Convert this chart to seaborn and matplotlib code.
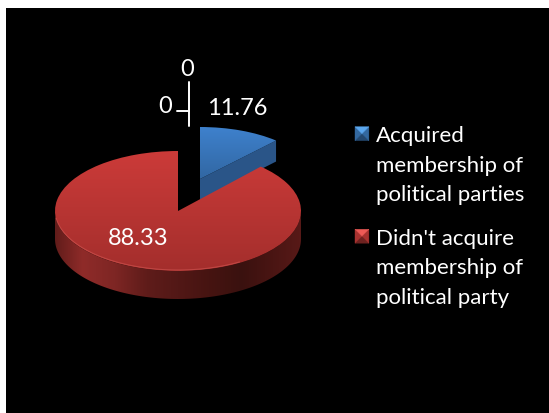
import numpy as np
import matplotlib
matplotlib.use("Agg")
import matplotlib.pyplot as plt
import seaborn as sns
from matplotlib.legend_handler import HandlerBase
from matplotlib.patches import Patch, Polygon
from matplotlib.transforms import Affine2D

categories = ["Acquired\nmembership of\npolitical parties",
              "Didn't acquire\nmembership of\npolitical party"]
shares = [11.76, 88.33]
empty_shares = [0, 0]

BLUE_RAMP = ["#3f82cf", "#30659f"]
RED_RAMP = ["#cc3b39", "#a32e2c"]
RED_WALL = ["#5a1a18", "#8f2b29", "#7e2624", "#5f1c1a", "#521816", "#461411", "#3a110f", "#4a1513", "#5a1a18"]

sns.set_theme(style="dark", rc={"axes.facecolor": "black", "figure.facecolor": "white"})
plt.rcParams["font.family"] = ["Lato", "DejaVu Sans"]

fig = plt.figure(figsize=(5.49, 4.14), dpi=100)
ax = fig.add_axes([6 / 549, 0, 543 / 549, 405 / 414])
ax.set_xticks([])
ax.set_yticks([])
for s in ax.spines.values():
    s.set_visible(False)


def pixel_frame(cx, cy, a, b):
    return Affine2D().scale(a, -b).translate(cx, cy)


wedges, _ = ax.pie(shares, startangle=90, counterclock=False, frame=True)
blue, red = wedges
BLUE_BOX = (200, 180, 113, 52)
RED_BOX = (178, 212, 123, 60)
DEPTH_BLUE, DEPTH_RED = 21, 28
blue_tf = pixel_frame(*BLUE_BOX)
red_tf = pixel_frame(*RED_BOX)


def ellipse_pts(tf, t1, t2, n=2):
    t = np.radians(np.linspace(t1, t2, n))
    return tf.transform(np.column_stack([np.cos(t), np.sin(t)]))


def ramp(colors, n=64):
    return np.array(sns.blend_palette(colors, n))[:, None, :]


# Blue slice: the cut face shows below its top surface.
inner = blue_tf.transform([(0, 0)])[0]
corner = ellipse_pts(blue_tf, blue.theta1, blue.theta1, 1)[0]
cut = [inner, corner, corner + (0, DEPTH_BLUE), inner + (0, DEPTH_BLUE)]
ax.add_patch(Polygon(cut, closed=True, fc="#2a5588", ec="none", zorder=1))

# Red slice wall, shaded along the rim.
front = ellipse_pts(red_tf, 180, 360, 200)
wall_outline = Polygon(np.vstack([front, front[::-1] + (0, DEPTH_RED)]), closed=True,
                       fc="none", ec="none", zorder=2)
ax.add_patch(wall_outline)
wall_img = ax.imshow(ramp(RED_WALL, 128).transpose(1, 0, 2), extent=(50, 306, 305, 205),
                     aspect="auto", zorder=2, interpolation="bilinear")
wall_img.set_clip_path(wall_outline)

# Top surfaces: vertical gradients clipped to the pie wedges.
for w, tf, colors, extent, z in [
    (blue, blue_tf, BLUE_RAMP, (190, 290, 185, 125), 1.5),
    (red, red_tf, RED_RAMP, (40, 310, 275, 150), 3),
]:
    w.set_transform(tf + ax.transData)
    w.set_facecolor("none")
    w.set_edgecolor("none")
    w.set_zorder(z)
    img = ax.imshow(ramp(colors), extent=extent, aspect="auto", zorder=z, interpolation="bilinear")
    img.set_clip_path(w)

# Light bevel along the front rim of the red slice.
rim = ellipse_pts(red_tf, 188, 300, 120)
ax.plot(rim[:, 0], rim[:, 1] - 1, color="#d65a56", lw=0.8, alpha=0.55, zorder=4, solid_capstyle="round")

ax.set_xlim(6, 549)
ax.set_ylim(414, 9)

# Leader lines of the two empty slices.
ax.plot([189, 189], [83, 127], color="white", lw=1.4, zorder=5)
ax.plot([177, 189], [112, 112], color="white", lw=1.4, zorder=5)

label_style = dict(color="white", fontsize=17, ha="center", va="center", zorder=6)
ax.text(237, 108, f"{shares[0]:.2f}", **label_style)
ax.text(138, 238, f"{shares[1]:.2f}", **label_style)
ax.text(187, 69, f"{empty_shares[0]}", **label_style)
ax.text(165, 106, f"{empty_shares[1]}", **label_style)


class BevelSquare(HandlerBase):
    def create_artists(self, legend, orig, xd, yd, width, height, fontsize, trans):
        light, mid, dark = orig.bevel
        S = 10
        x0, y0 = 0, 23
        m = (x0 + S / 2, y0 + S / 2)
        corners = [(x0, y0), (x0 + S, y0), (x0 + S, y0 + S), (x0, y0 + S)]
        faces = [(corners[0], corners[1], dark), (corners[0], corners[3], mid),
                 (corners[1], corners[2], mid), (corners[3], corners[2], light)]
        return [Polygon([a, b, m], closed=True, fc=c, ec=c, lw=0.3, transform=trans)
                for a, b, c in faces]


blue_h = Patch(label=categories[0])
blue_h.bevel = ("#5aa6ee", "#33689f", "#24486f")
red_h = Patch(label=categories[1])
red_h.bevel = ("#ee5a56", "#a83230", "#6e2220")
leg = ax.legend(handles=[blue_h, red_h], loc="upper left", bbox_to_anchor=(355, 126),
                bbox_transform=ax.transData, frameon=False, fontsize=16, labelcolor="white",
                handler_map={Patch: BevelSquare()}, handlelength=0.95, handletextpad=0,
                labelspacing=1.05, borderpad=0, borderaxespad=0)
for t in leg.get_texts():
    t.set_linespacing(1.6)

fig.savefig("out.png", dpi=100)
